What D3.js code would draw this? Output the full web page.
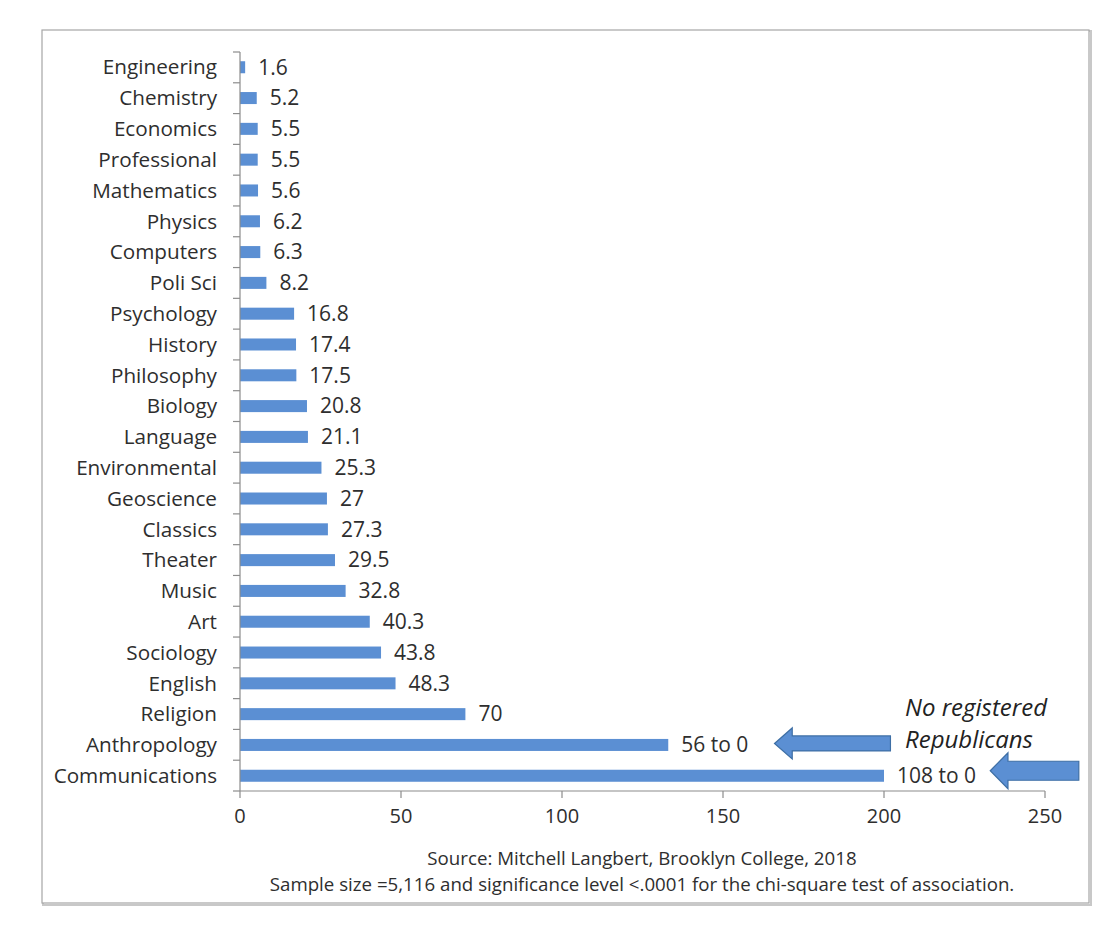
<!DOCTYPE html>
<html><head><meta charset="utf-8">
<script src="https://cdn.jsdelivr.net/npm/d3@7"></script>
<style>body{margin:0;background:#fff;}svg{display:block;font-family:"Open Sans",Lato,sans-serif;}</style>
</head><body>
<svg id="c" width="1120" height="926"></svg>
<script>
const categories = ["Engineering","Chemistry","Economics","Professional","Mathematics","Physics","Computers","Poli Sci","Psychology","History","Philosophy","Biology","Language","Environmental","Geoscience","Classics","Theater","Music","Art","Sociology","English","Religion","Anthropology","Communications"];
const values = [1.6,5.2,5.5,5.5,5.6,6.2,6.3,8.2,16.8,17.4,17.5,20.8,21.1,25.3,27,27.3,29.5,32.8,40.3,43.8,48.3,70,133,200];
const valueLabels = ["1.6","5.2","5.5","5.5","5.6","6.2","6.3","8.2","16.8","17.4","17.5","20.8","21.1","25.3","27","27.3","29.5","32.8","40.3","43.8","48.3","70","56 to 0","108 to 0"];
const xTicks = [0,50,100,150,200,250];
const sourceLines = ["Source: Mitchell  Langbert, Brooklyn College, 2018","Sample size =5,116 and significance level <.0001 for the chi-square test of association."];
const noteLines = ["No registered","Republicans"];

const svg = d3.select("#c");
const txt = "#2e2e2e";
svg.append("rect").attr("x",43).attr("y",31).attr("width",1048).attr("height",874).attr("fill","none").attr("stroke","#c8c8c8").attr("stroke-width",2);
svg.append("rect").attr("x",42).attr("y",30).attr("width",1047).attr("height",873).attr("fill","#fff").attr("stroke","#a6a6a6").attr("stroke-width",1.2);

const x = d3.scaleLinear().domain([0,250]).range([240,1045]);
const y = d3.scaleBand().domain(categories).range([52,791]).paddingInner(0.61).paddingOuter(0.3);

// bars
svg.append("g").selectAll("rect").data(categories).join("rect")
  .attr("x",x(0)).attr("y",d=>y(d)).attr("height",y.bandwidth())
  .attr("width",(d,i)=>x(values[i])-x(0)).attr("fill","#5b8fd3");

// value labels
svg.append("g").selectAll("text").data(categories).join("text")
  .attr("x",(d,i)=>x(values[i])+13).attr("y",d=>y(d)+y.bandwidth()/2)
  .attr("dy","0.35em").attr("font-size",21).attr("fill",txt)
  .text((d,i)=>valueLabels[i]);

// y axis
const yStart = 52, yEnd = 791;
const ax = svg.append("g");
ax.append("line").attr("x1",x(0)).attr("x2",x(0)).attr("y1",yStart).attr("y2",yEnd).attr("stroke","#8c8c8c").attr("stroke-width",1.2);
const bounds = d3.range(categories.length+1).map(i=>yStart + i*(yEnd-yStart)/categories.length);
ax.selectAll(".yt").data(bounds).join("line").attr("x1",x(0)-7).attr("x2",x(0)).attr("y1",d=>d).attr("y2",d=>d).attr("stroke","#8c8c8c").attr("stroke-width",1.2);
ax.selectAll(".yl").data(categories).join("text")
  .attr("x",x(0)-23).attr("y",d=>y(d)+y.bandwidth()/2).attr("dy","0.35em")
  .attr("text-anchor","end").attr("font-size",20.7).attr("fill",txt).text(d=>d);

// x axis
ax.append("line").attr("x1",x(0)).attr("x2",x(250)).attr("y1",yEnd).attr("y2",yEnd).attr("stroke","#8c8c8c").attr("stroke-width",1.2);
ax.selectAll(".xt").data(xTicks).join("line").attr("x1",d=>x(d)).attr("x2",d=>x(d)).attr("y1",yEnd).attr("y2",yEnd+7).attr("stroke","#8c8c8c").attr("stroke-width",1.2);
ax.selectAll(".xl").data(xTicks).join("text").attr("x",d=>x(d)).attr("y",yEnd+25).attr("dy","0.35em")
  .attr("text-anchor","middle").attr("font-size",20).attr("fill",txt).text(d=>d);

// source
svg.append("g").selectAll("text").data(sourceLines).join("text")
  .attr("x",642).attr("y",(d,i)=>865+i*26).attr("text-anchor","middle").attr("font-size",18.7).attr("fill",txt).text(d=>d);

// arrows
function arrow(tipV, baseV, tailV, cy, sh, hh){
  const t=x(tipV), b=x(baseV), e=x(tailV);
  const p = `M${t},${cy} L${b},${cy-hh} L${b},${cy-sh} L${e},${cy-sh} L${e},${cy+sh} L${b},${cy+sh} L${b},${cy+hh} Z`;
  svg.append("path").attr("d",p).attr("fill","#5b8fd3").attr("stroke","#3e6fa5").attr("stroke-width",1.2);
}
arrow(166, 171.5, 202, y("Anthropology")+y.bandwidth()/2-1.5, 7.5, 15.5);
arrow(233, 238.5, 260.5, y("Communications")+y.bandwidth()/2-5, 9.5, 18);

svg.append("g").selectAll("text").data(noteLines).join("text")
  .attr("x",905).attr("y",(d,i)=>716+i*32).attr("font-size",24).attr("font-style","italic").attr("fill","#222").text(d=>d);
</script>
</body></html>
